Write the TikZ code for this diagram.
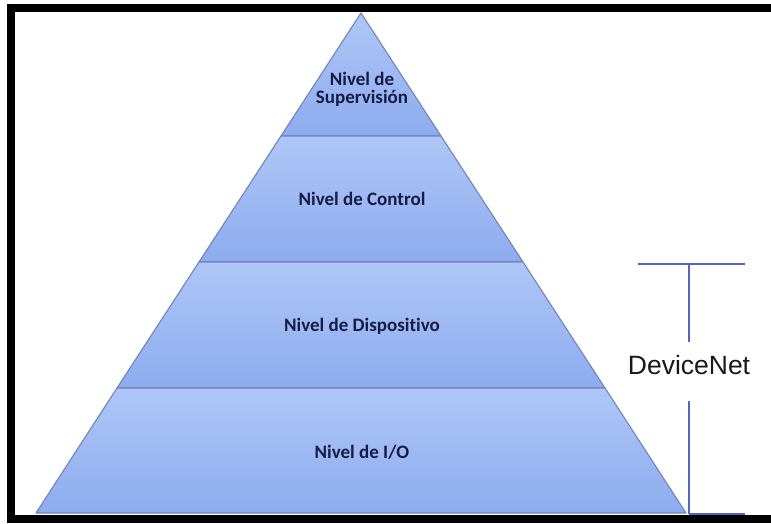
\documentclass[tikz,border=0pt]{standalone}
\usepackage{fontspec}
\setmainfont{Carlito}[Ligatures=NoCommon]
\newfontfamily\arialfont{Liberation Sans}
\definecolor{layertop}{HTML}{AFC7F7}
\definecolor{layerbot}{HTML}{8DABEE}
\definecolor{layeredge}{HTML}{6F84BC}
\definecolor{labelink}{HTML}{161C45}
\definecolor{bracketblue}{HTML}{5563C4}
\tikzset{
  layer/.style={top color=layertop, bottom color=layerbot, draw=layeredge, line width=1.1pt, line join=round},
  levellabel/.style={font=\bfseries\fontsize{19}{18}\selectfont, text=labelink, align=center, inner sep=0pt},
  bracket/.style={draw=bracketblue, line width=1.2pt},
  netlabel/.style={font=\arialfont\fontsize{26.5}{30}\selectfont, text=black!90, inner sep=0pt}
}
\begin{document}
\begin{tikzpicture}[x=1pt, y=-1pt]
\useasboundingbox (0,0) rectangle (771,523);
\fill[white] (0,0) rectangle (771,523);

% outer frame (right side runs off the page)
\begin{scope}
\clip (0,0) rectangle (771,523);
\draw[line width=8pt] (11,8) rectangle (800,519);
\end{scope}

% pyramid corners and layer boundaries
\coordinate (apex) at (361,13);
\coordinate (b1l) at (281,136);  \coordinate (b1r) at (441,136);
\coordinate (b2l) at (199,262);  \coordinate (b2r) at (523,262);
\coordinate (b3l) at (117,388);  \coordinate (b3r) at (605,388);
\coordinate (basel) at (36,513); \coordinate (baser) at (686,513);

% pyramid layers
\path[layer] (apex) -- (b1r) -- (b1l) -- cycle;
\path[layer] (b1l) -- (b1r) -- (b2r) -- (b2l) -- cycle;
\path[layer] (b2l) -- (b2r) -- (b3r) -- (b3l) -- cycle;
\path[layer] (b3l) -- (b3r) -- (baser) -- (basel) -- cycle;

% level names
\node[levellabel] (sup) at (362,89) {Nivel de\\Supervisión};
\node[levellabel] (ctl) at (362,199) {Nivel de Control};
\node[levellabel] (dev) at (362,326) {Nivel de Dispositivo};
\node[levellabel] (io)  at (362,452) {Nivel de I/O};

% DeviceNet span bracket
\node[netlabel] (dnet) at (689,365) {DeviceNet};
\coordinate (topl) at (638,264);
\coordinate (topr) at (745,264);
\coordinate (topm) at (689,264);
\coordinate (gapt) at (689,342);
\coordinate (gapb) at (689,401);
\coordinate (botm) at (689,514);
\coordinate (botr) at (745,514);
\draw[bracket] (topl) -- (topr);
\draw[bracket] (topm) -- (gapt);
\draw[bracket] (gapb) -- (botm);
\draw[bracket] (botm) -- (botr);
\end{tikzpicture}
\end{document}
